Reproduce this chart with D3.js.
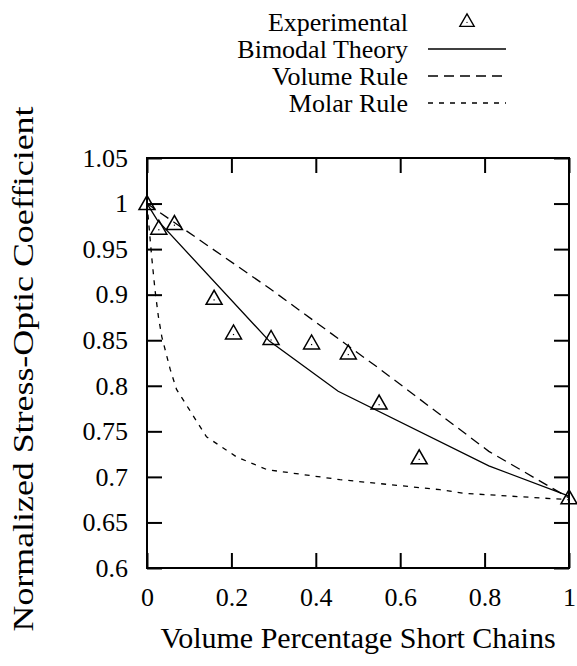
<!DOCTYPE html>
<html>
<head>
<meta charset="utf-8">
<script src="https://cdn.jsdelivr.net/npm/d3@7"></script>
<style>
  body { margin: 0; background: #fff; }
  text { font-family: "Liberation Serif", "DejaVu Serif", serif; fill: #000; }
</style>
</head>
<body>
<svg width="577" height="666"></svg>
<script>
// Data
var xTicks = [0, 0.2, 0.4, 0.6, 0.8, 1];
var xTickLabels = ["0", "0.2", "0.4", "0.6", "0.8", "1"];
var yTicks = [0.6, 0.65, 0.7, 0.75, 0.8, 0.85, 0.9, 0.95, 1, 1.05];
var yTickLabels = ["0.6", "0.65", "0.7", "0.75", "0.8", "0.85", "0.9", "0.95", "1", "1.05"];

var expX = [0, 0.028, 0.065, 0.159, 0.205, 0.294, 0.390, 0.477, 0.550, 0.645, 1.0];
var expY = [1.0, 0.973, 0.978, 0.896, 0.858, 0.852, 0.847, 0.836, 0.781, 0.721, 0.677];

var bimodalX = [0, 0.024, 0.29, 0.453, 0.81, 1.0];
var bimodalY = [1.0, 0.982, 0.849, 0.794, 0.712, 0.679];

var volumeX = [0, 0.29, 0.55, 0.81, 1.0];
var volumeY = [1.0, 0.907, 0.819, 0.728, 0.677];

var molarX = [0, 0.011, 0.019, 0.027, 0.035, 0.055, 0.07, 0.10, 0.141, 0.212, 0.284, 0.457, 0.694, 0.75, 1.0];
var molarY = [1.0, 0.942, 0.905, 0.876, 0.854, 0.818, 0.796, 0.774, 0.744, 0.722, 0.708, 0.697, 0.686, 0.682, 0.675];

var legendLabels = ["Experimental", "Bimodal Theory", "Volume Rule", "Molar Rule"];

var svg = d3.select("svg");

// plot area
var plotLeft = 147, plotRight = 569, plotTop = 158, plotBottom = 568;

var x = d3.scaleLinear().domain([0, 1]).range([plotLeft, plotRight]);
var y = d3.scaleLinear().domain([0.6, 1.05]).range([plotBottom, plotTop]);

var tickLen = 15;
var fontSize = 26;

// bottom axis (ticks point inward)
svg.append("g")
    .attr("transform", "translate(0," + plotBottom + ")")
    .call(d3.axisBottom(x)
      .tickValues(xTicks)
      .tickSize(-tickLen)
      .tickPadding(20)
      .tickFormat(function(d, i) { return xTickLabels[i]; }))
    .call(function(g) { g.select(".domain").remove(); })
    .call(function(g) {
      g.selectAll("line").attr("stroke", "#000").attr("stroke-width", 2);
      g.selectAll("text").attr("font-size", fontSize);
    });

// top mirror ticks
svg.append("g")
    .attr("transform", "translate(0," + plotTop + ")")
    .call(d3.axisTop(x).tickValues(xTicks).tickSize(-tickLen).tickFormat(""))
    .call(function(g) { g.select(".domain").remove(); })
    .selectAll("line").attr("stroke", "#000").attr("stroke-width", 2);

// left axis
svg.append("g")
    .attr("transform", "translate(" + plotLeft + ",0)")
    .call(d3.axisLeft(y)
      .tickValues(yTicks)
      .tickSize(-tickLen)
      .tickPadding(19)
      .tickFormat(function(d, i) { return yTickLabels[i]; }))
    .call(function(g) { g.select(".domain").remove(); })
    .call(function(g) {
      g.selectAll("line").attr("stroke", "#000").attr("stroke-width", 2);
      g.selectAll("text").attr("font-size", fontSize);
    });

// right mirror ticks
svg.append("g")
    .attr("transform", "translate(" + plotRight + ",0)")
    .call(d3.axisRight(y).tickValues(yTicks).tickSize(-tickLen).tickFormat(""))
    .call(function(g) { g.select(".domain").remove(); })
    .selectAll("line").attr("stroke", "#000").attr("stroke-width", 2);

// frame
svg.append("rect")
    .attr("x", plotLeft).attr("y", plotTop)
    .attr("width", plotRight - plotLeft).attr("height", plotBottom - plotTop)
    .attr("fill", "none").attr("stroke", "#000").attr("stroke-width", 2);

// lines
var line = d3.line()
    .x(function(d) { return x(d[0]); })
    .y(function(d) { return y(d[1]); });

function pairs(xs, ys) { return xs.map(function(v, i) { return [v, ys[i]]; }); }

var series = [
  { data: pairs(bimodalX, bimodalY), dash: null },
  { data: pairs(volumeX, volumeY), dash: "10,6" },
  { data: pairs(molarX, molarY), dash: "5,6" }
];

svg.append("g").selectAll("path")
  .data(series)
  .enter().append("path")
    .attr("d", function(d) { return line(d.data); })
    .attr("fill", "none")
    .attr("stroke", "#000")
    .attr("stroke-width", 1.3)
    .attr("stroke-dasharray", function(d) { return d.dash; });

// triangle markers
function triangle(g) {
  g.append("path")
    .attr("d", "M-8,6L8,6L0,-8Z")
    .attr("fill", "none").attr("stroke", "#000").attr("stroke-width", 1.5);
  g.append("rect")
    .attr("x", -0.6).attr("y", 1).attr("width", 1.2).attr("height", 1.2)
    .attr("fill", "#000");
}

svg.append("g").selectAll("g")
  .data(pairs(expX, expY))
  .enter().append("g")
    .attr("transform", function(d) { return "translate(" + x(d[0]) + "," + y(d[1]) + ")"; })
    .each(function() { triangle(d3.select(this)); });

// legend
var legend = svg.append("g").attr("class", "legend");
var legendY = [22, 49, 76, 103];
legendLabels.forEach(function(lbl, i) {
  legend.append("text")
    .attr("x", 408).attr("y", legendY[i])
    .attr("dy", "0.35em")
    .attr("text-anchor", "end")
    .attr("font-size", fontSize)
    .text(lbl);
});
var ltri = legend.append("g").attr("transform", "translate(467," + (legendY[0] - 1) + ") scale(0.9)");
triangle(ltri);
[null, "10,6", "5,6"].forEach(function(dash, i) {
  legend.append("line")
    .attr("x1", 428).attr("x2", 506)
    .attr("y1", legendY[i + 1]).attr("y2", legendY[i + 1])
    .attr("stroke", "#000").attr("stroke-width", 1.3)
    .attr("stroke-dasharray", dash);
});

// axis titles
svg.append("text")
    .attr("x", 358).attr("y", 648)
    .attr("text-anchor", "middle")
    .attr("font-size", 30)
    .text("Volume Percentage Short Chains");

svg.append("text")
    .attr("transform", "translate(33," + 369 + ") rotate(-90)")
    .attr("text-anchor", "middle")
    .attr("font-size", 30)
    .attr("textLength", 525)
    .attr("lengthAdjust", "spacingAndGlyphs")
    .text("Normalized Stress-Optic Coefficient");
</script>
</body>
</html>
